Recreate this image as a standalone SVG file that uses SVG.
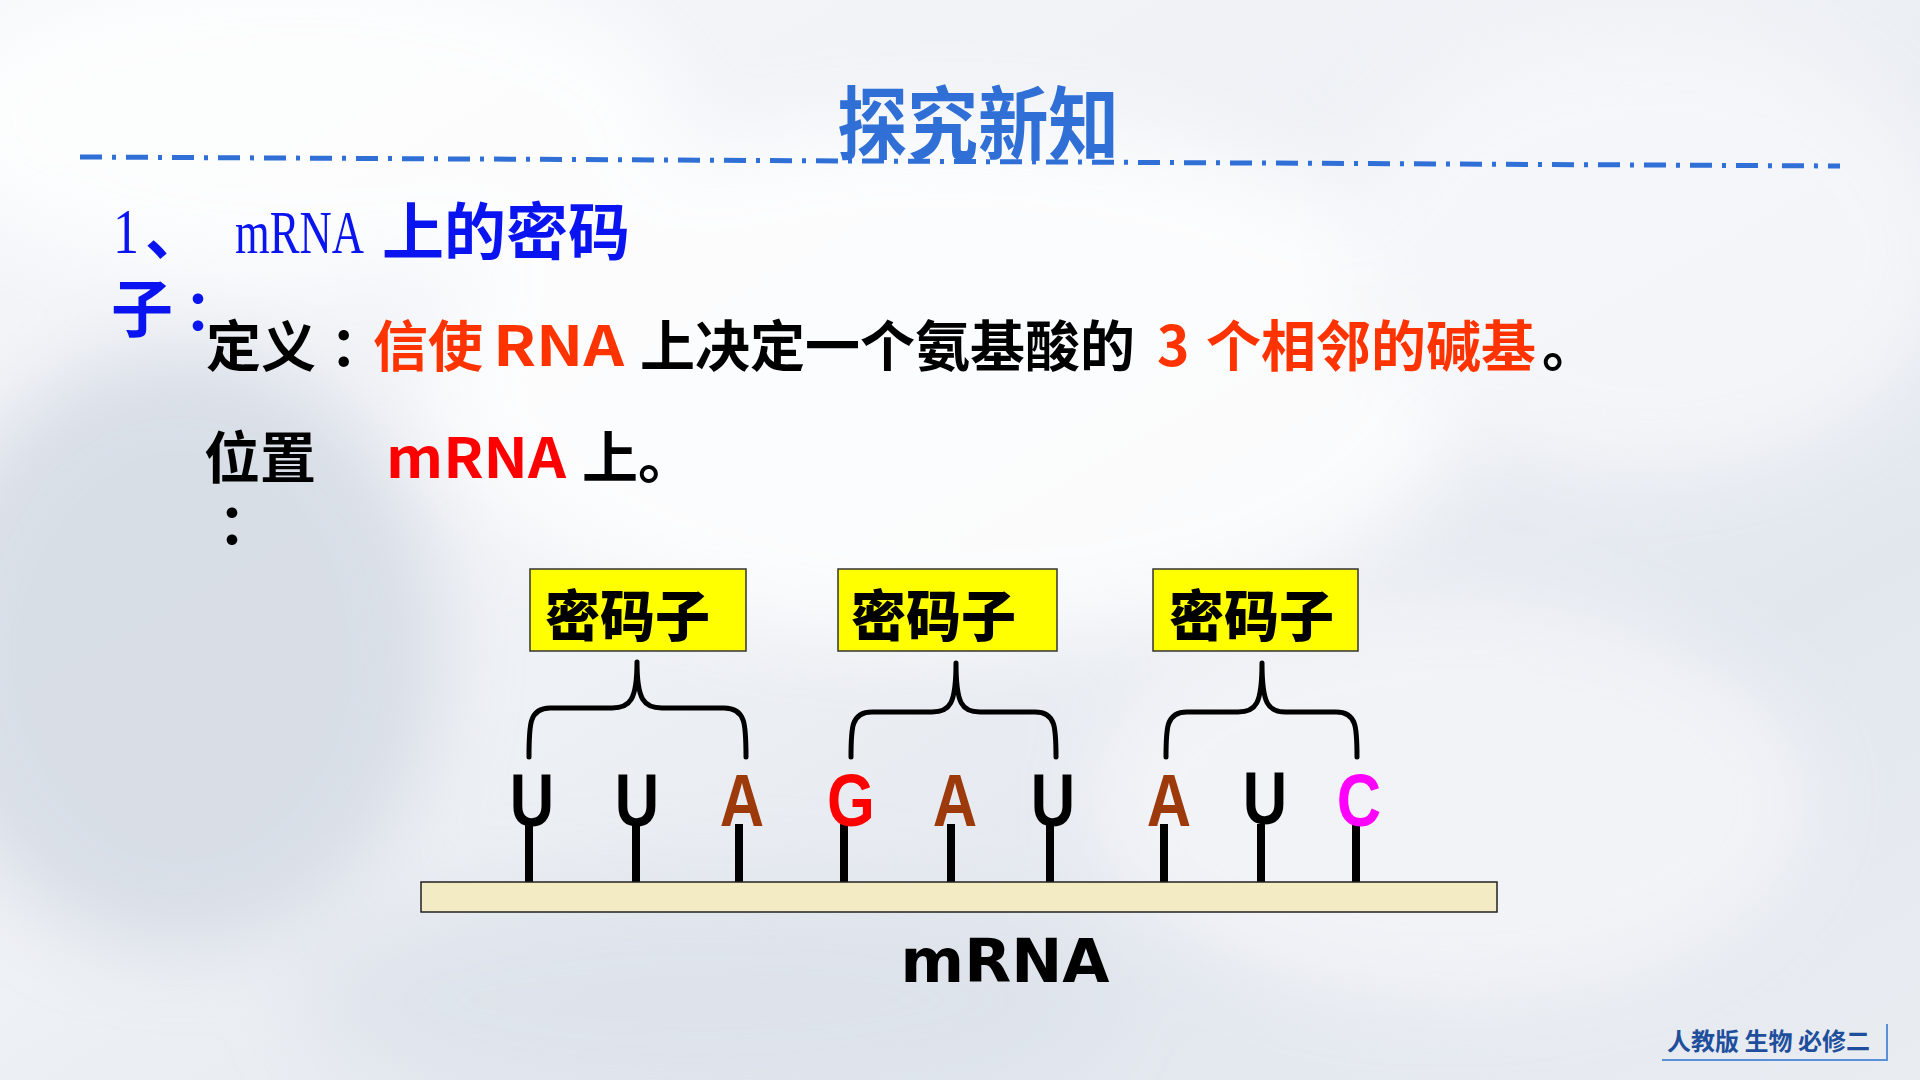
<svg xmlns="http://www.w3.org/2000/svg" width="1920" height="1080" viewBox="0 0 1920 1080">
<defs>
<linearGradient id="bg" x1="0" y1="0" x2="1" y2="1">
<stop offset="0" stop-color="#f4f6f9"/>
<stop offset="0.45" stop-color="#eef1f5"/>
<stop offset="0.75" stop-color="#e2e7ee"/>
<stop offset="1" stop-color="#e9edf2"/>
</linearGradient>
<filter id="blur" x="-50%" y="-50%" width="200%" height="200%"><feGaussianBlur stdDeviation="40"/></filter>
<style>
.cn{font-family:"Noto Sans CJK SC","Noto Sans",sans-serif;font-weight:bold}
.base{font-family:"Liberation Sans",Arial,sans-serif;font-weight:bold;font-size:75px;text-anchor:middle}
.stem{stroke:#000;stroke-width:8;fill:none}
.brace{stroke:#000;stroke-width:5;fill:none;stroke-linejoin:round;stroke-linecap:round}
.box{fill:#ffff00;stroke:#333;stroke-width:1.5}
.boxt{font-family:"Noto Sans CJK SC",sans-serif;font-weight:900;font-size:55px;fill:#000}
.red{fill:#ff3300}
</style>
</defs>
<rect width="1920" height="1080" fill="url(#bg)"/>
<g filter="url(#blur)" opacity="0.8">
<ellipse cx="950" cy="380" rx="520" ry="260" fill="#ffffff"/>
<ellipse cx="300" cy="120" rx="380" ry="160" fill="#ffffff"/>
<ellipse cx="1650" cy="250" rx="300" ry="220" fill="#f7f8fb"/>
<ellipse cx="180" cy="650" rx="260" ry="300" fill="#d3d9e3"/>
<ellipse cx="1450" cy="800" rx="360" ry="200" fill="#f5f6f9"/>
<ellipse cx="700" cy="1000" rx="400" ry="120" fill="#dde2ea"/>
</g>

<g id="title">
<text x="837" y="153" class="cn" font-size="80" fill="#2f6fd6" textLength="282" lengthAdjust="spacingAndGlyphs">探究新知</text>
<line x1="80" y1="157" x2="1840" y2="166" stroke="#2f6fd6" stroke-width="5" stroke-dasharray="22 10 4 10"/>
</g>

<g id="heading" fill="#0a14f0">
<text x="113" y="253" font-family="Liberation Serif,serif" font-size="64" textLength="26" lengthAdjust="spacingAndGlyphs">1</text>
<text x="145" y="255" class="cn" font-size="60">、</text>
<text x="235" y="253" font-family="Liberation Serif,serif" font-size="62" textLength="129" lengthAdjust="spacingAndGlyphs">mRNA</text>
<text x="382" y="255" class="cn" font-size="62">上的密码</text>
<text x="111" y="332" class="cn" font-size="62">子</text>
<text x="184" y="330" class="cn" font-size="56">：</text>
</g>

<g id="definition">
<text y="366" class="cn" font-size="55" fill="#000"><tspan x="206">定义</tspan><tspan x="330">：</tspan><tspan x="373" class="red">信使</tspan><tspan x="493" class="red" textLength="131" lengthAdjust="spacingAndGlyphs">RNA</tspan><tspan x="640">上决定一个氨基酸的</tspan><tspan x="1157" class="red">3</tspan><tspan x="1206" class="red">个相邻的碱基</tspan><tspan x="1542">。</tspan></text>
</g>

<g id="position">
<text x="204" y="478" class="cn" font-size="56" fill="#000">位置</text>
<text x="218" y="544" class="cn" font-size="56" fill="#000">：</text>
<text x="386" y="478" class="cn" font-size="56" fill="#ff0000" textLength="180" lengthAdjust="spacingAndGlyphs">mRNA</text>
<text x="582" y="478" class="cn" font-size="56" fill="#000">上。</text>
</g>

<g id="codon1">
<rect class="box" x="530" y="569" width="216" height="82"/>
<text class="boxt" x="545" y="636">密码子</text>
</g>
<g id="codon2">
<rect class="box" x="838" y="569" width="219" height="82"/>
<text class="boxt" x="851" y="636">密码子</text>
</g>
<g id="codon3">
<rect class="box" x="1153" y="569" width="205" height="82"/>
<text class="boxt" x="1169" y="636">密码子</text>
</g>

<g id="connectors">
<path class="brace" d="M529,757 C529,725 529,708 550,708 L612,708 C630,708 637,700 637,662 C637,700 644,708 662,708 L724,708 C746,708 746,725 746,757"/>
<path class="brace" d="M851,757 C851,728 851,712 872,712 L932,712 C950,712 956,704 956,663 C956,704 962,712 980,712 L1035,712 C1056,712 1056,728 1056,757"/>
<path class="brace" d="M1166,757 C1166,728 1166,712 1187,712 L1238,712 C1256,712 1262,704 1262,663 C1262,704 1268,712 1286,712 L1336,712 C1357,712 1357,728 1357,757"/>
<line class="stem" x1="529" y1="824" x2="529" y2="886"/>
<line class="stem" x1="636" y1="824" x2="636" y2="886"/>
<line class="stem" x1="739" y1="824" x2="739" y2="886"/>
<line class="stem" x1="844" y1="824" x2="844" y2="886"/>
<line class="stem" x1="951" y1="824" x2="951" y2="886"/>
<line class="stem" x1="1050" y1="824" x2="1050" y2="886"/>
<line class="stem" x1="1164" y1="824" x2="1164" y2="886"/>
<line class="stem" x1="1261" y1="824" x2="1261" y2="886"/>
<line class="stem" x1="1356" y1="824" x2="1356" y2="886"/>
</g>

<g id="mrna">
<rect x="421" y="882" width="1076" height="30" fill="#f3ebc3" stroke="#222" stroke-width="1.5"/>
<text x="1005" y="982" font-family="DejaVu Sans,sans-serif" font-weight="bold" font-size="61" text-anchor="middle" fill="#000">mRNA</text>
</g>

<g id="bases">
<text class="base" transform="translate(532,826) scale(0.82,1)" fill="#000">U</text>
<text class="base" transform="translate(637,826) scale(0.82,1)" fill="#000">U</text>
<text class="base" transform="translate(742,826) scale(0.82,1)" fill="#9c3a0c">A</text>
<text class="base" transform="translate(851,826) scale(0.82,1)" fill="#ff0000">G</text>
<text class="base" transform="translate(955,826) scale(0.82,1)" fill="#9c3a0c">A</text>
<text class="base" transform="translate(1053,826) scale(0.82,1)" fill="#000">U</text>
<text class="base" transform="translate(1169,826) scale(0.82,1)" fill="#9c3a0c">A</text>
<text class="base" transform="translate(1265,824) scale(0.82,1)" fill="#000">U</text>
<text class="base" transform="translate(1359,826) scale(0.82,1)" fill="#ff00ff">C</text>
</g>

<g id="footer">
<text x="1667" y="1050" class="cn" font-size="24" fill="#1f4f9c">人教版 生物 必修二</text>
<line x1="1662" y1="1060" x2="1887" y2="1060" stroke="#5b8fd6" stroke-width="2"/>
<line x1="1887" y1="1024" x2="1887" y2="1061" stroke="#5b8fd6" stroke-width="2"/>
</g>
</svg>
